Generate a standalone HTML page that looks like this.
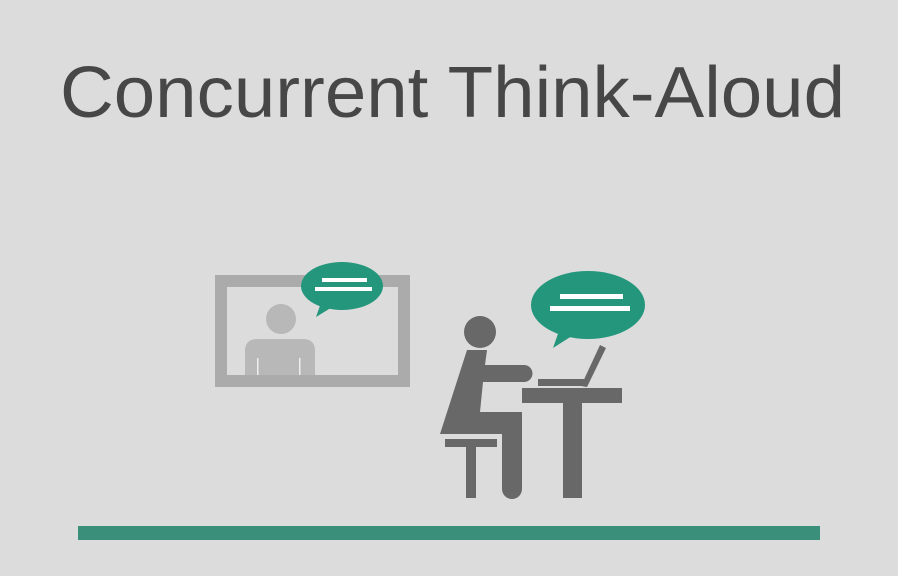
<!DOCTYPE html>
<html><head><style>
html,body{margin:0;padding:0;background:#dcdcdc;width:898px;height:576px;overflow:hidden}
svg{display:block}
</style></head><body>
<svg width="898" height="576" viewBox="0 0 898 576">
<rect width="898" height="576" fill="#dcdcdc"/>
<text x="60" y="117" textLength="785" lengthAdjust="spacingAndGlyphs" font-family="Liberation Sans, sans-serif" font-size="72" fill="#474747">Concurrent Think-Aloud</text>
<g>
<rect x="221" y="281" width="183" height="100" fill="none" stroke="#ababab" stroke-width="12"/>
<circle cx="281" cy="319" r="15" fill="#b8b8b8"/>
<path d="M245 375 V351 Q245 339 257 339 H303 Q315 339 315 351 V375 Z" fill="#b8b8b8"/>
<rect x="257" y="358" width="1.5" height="17" fill="#eee"/><rect x="299" y="358" width="1.5" height="17" fill="#eee"/>
</g>
<g>
<ellipse cx="342" cy="286" rx="41" ry="24" fill="#23967c"/>
<path d="M322 300 L316 317 L334 306 Z" fill="#23967c"/>
<rect x="322" y="278" width="45" height="4" fill="#fff"/>
<rect x="315" y="287" width="57" height="4" fill="#fff"/>
</g>
<g>
<ellipse cx="588" cy="305" rx="57" ry="34" fill="#23967c"/>
<path d="M560 328 L553 348 L575 334 Z" fill="#23967c"/>
<rect x="560" y="294" width="63" height="5" fill="#fff"/>
<rect x="550" y="306" width="80" height="5" fill="#fff"/>
</g>
<g fill="#686868">
<circle cx="480" cy="332" r="16"/>
<path d="M467 350 H487 L485 365 H524 A8.5 8.5 0 0 1 524 382 H483 L480 412 H522 V489 A10 10 0 0 1 502 489 V434 H440 Z"/>
<rect x="445" y="439" width="52" height="8"/>
<rect x="466" y="447" width="10" height="51"/>
<rect x="522" y="388" width="100" height="15"/>
<rect x="563" y="403" width="19" height="95"/>
<rect x="538" y="379" width="46" height="7"/>
<path d="M581 386 L600 345 L606 348 L587 387 Z"/>
</g>
<rect x="78" y="526" width="742" height="14" fill="#3a8f7a"/>
</svg>
</body></html>
